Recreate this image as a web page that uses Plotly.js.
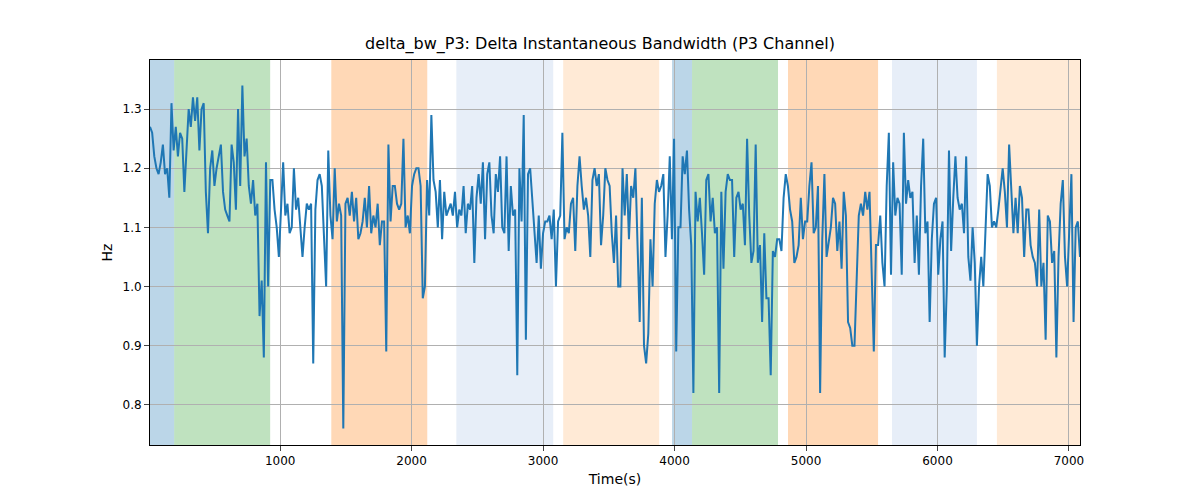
<!DOCTYPE html>
<html>
<head>
<meta charset="utf-8">
<script src="https://cdn.plot.ly/plotly-3.0.1.min.js"></script>
<style>body{margin:0}#plot{width:1200px;height:500px}</style>
</head>
<body>
<div id="plot"></div>
<script>
// measured values, in order of time
let bandwidth = [
  1.27,1.26,1.22,1.20,1.19,1.21,1.24,1.19,1.20,1.15,1.31,1.23,1.27,1.22,1.26,1.25,1.16,1.24,1.30,1.27,1.32,1.28,1.32,1.23,1.30,1.31,1.16,1.09,1.20,1.23,1.17,1.20,1.22,1.24,
  1.16,1.13,1.12,1.11,1.24,1.21,1.13,1.30,1.17,1.34,1.22,1.25,1.17,1.14,1.18,1.12,1.14,
  0.95,1.01,0.88,1.21,1.00,1.18,1.18,1.13,1.10,1.05,1.12,1.21,1.12,1.14,1.09,1.10,1.20,1.13,1.15,1.09,1.05,1.10,1.14,1.13,1.14,0.87,1.13,1.18,1.19,1.17,1.08,
  1.00,1.23,1.12,1.08,1.20,1.11,1.14,1.12,0.76,1.14,1.15,1.12,1.16,1.11,1.15,1.08,1.09,1.11,1.15,1.10,1.17,1.09,1.12,1.10,1.14,1.07,1.11,1.11,0.89,1.24,1.11,1.17,1.17,1.14,1.13,1.14,1.25,1.10,1.12,1.09,1.17,1.19,1.20,1.20,1.17,
  0.98,1.00,1.18,1.12,1.29,1.18,1.16,1.10,1.18,1.08,1.16,1.12,
  1.13,1.14,1.12,1.16,1.10,1.13,1.12,1.17,1.09,1.14,1.13,1.17,1.04,1.15,1.19,1.14,1.21,1.08,1.19,1.21,1.12,1.09,1.19,1.16,1.22,1.10,1.09,1.22,1.06,1.17,1.12,1.13,0.85,1.20,1.11,1.29,0.91,1.19,1.20,1.15,
  1.10,1.04,1.12,1.03,1.09,
  1.11,1.11,1.12,1.08,1.13,1.00,1.11,1.12,1.26,1.08,1.10,1.09,1.14,1.15,1.06,1.17,1.22,1.17,1.13,1.15,1.12,1.05,1.18,1.20,1.17,1.19,1.07,1.12,1.20,1.18,1.17,1.09,1.04,1.12,1.00,1.00,1.20,1.12,1.19,1.08,1.17,1.15,1.20,
  1.07,0.94,1.15,0.90,0.87,0.92,
  1.08,1.00,1.14,1.18,1.16,1.17,1.19,1.05,1.12,
  1.22,1.08,1.25,0.89,1.10,1.10,1.22,1.19,1.23,1.13,1.07,0.82,1.16,1.11,1.15,1.09,1.02,1.18,1.19,1.11,1.15,1.09,1.10,0.82,1.16,1.03,1.16,1.19,1.18,1.18,1.05,1.15,1.16,1.13,1.14,1.07,1.25,1.12,1.04,1.06,
  1.24,1.04,1.07,0.94,1.09,
  0.98,0.98,0.85,1.06,1.05,1.08,1.08,1.06,1.15,1.19,1.17,1.13,1.11,1.04,1.05,1.07,1.15,1.08,1.11,1.11,1.17,1.21,1.09,1.10,1.17,0.82,1.08,1.19,1.05,1.08,1.10,1.15,1.14,1.06,1.11,1.03,1.16,1.12,0.94,0.93,0.90,0.90,1.02,1.12,1.14,1.12,1.16,1.13,1.16,1.03,
  0.89,1.07,1.07,1.12,1.04,
  1.00,1.17,1.26,1.02,1.21,1.12,1.15,1.14,1.02,1.26,1.14,1.18,1.15,1.16,1.04,1.12,1.02,1.17,1.25,1.09,1.11,0.94,1.08,1.14,1.15,1.02,1.08,1.11,0.88,1.00,1.23,1.06,1.15,1.22,1.15,1.13,1.14,1.09,1.22,1.05,
  1.01,1.10,1.04,0.90,1.00,1.05,1.00,1.10,
  1.19,1.17,1.10,1.11,1.10,1.13,1.17,1.20,1.16,1.10,1.24,1.17,1.09,1.15,1.09,1.17,1.15,1.05,1.13,1.13,1.07,1.05,1.04,1.00,1.13,1.00,1.04,0.91,1.12,1.11,1.04,1.06,0.88,1.05,1.14,1.18,1.05,1.00,1.10,1.19,0.94,1.10,1.11,1.05
];
let tStart = 10, tEnd = 7084;
let time = bandwidth.map((v, i) => tStart + i * (tEnd - tStart) / (bandwidth.length - 1));

// shaded intervals: [start, end, colour]
let spanStarts = [10, 194, 1389, 2340, 3153, 3981, 4133, 4863, 5654, 6452];
let spanEnds   = [194, 924, 2119, 3077, 3883, 4133, 4787, 5548, 6300, 7084];
let spanColors = ['rgba(31,119,180,0.3)', 'rgba(44,160,44,0.3)', 'rgba(255,127,14,0.3)',
                  'rgba(174,199,232,0.3)', 'rgba(255,187,120,0.3)',
                  'rgba(31,119,180,0.3)', 'rgba(44,160,44,0.3)', 'rgba(255,127,14,0.3)',
                  'rgba(174,199,232,0.3)', 'rgba(255,187,120,0.3)'];

let shapes = spanStarts.map((s, i) => ({
    type: 'rect', xref: 'x', yref: 'paper', x0: s, x1: spanEnds[i], y0: 0, y1: 1,
    fillcolor: spanColors[i], line: {width: 0}, layer: 'below'
}));

Plotly.newPlot('plot', [{
    x: time, y: bandwidth, mode: 'lines', line: {color: '#1f77b4', width: 2}
}], {
    width: 1200, height: 500,
    margin: {l: 150, r: 120, t: 60, b: 55},
    font: {family: 'DejaVu Sans', size: 12, color: '#000'},
    title: {text: 'delta_bw_P3: Delta Instantaneous Bandwidth (P3 Channel)', font: {size: 16}, y: 0.925},
    showlegend: false,
    plot_bgcolor: '#fff',
    shapes: shapes,
    xaxis: {range: [tStart, tEnd], tickvals: [1000,2000,3000,4000,5000,6000,7000],
            showgrid: true, gridcolor: '#b0b0b0', zeroline: false, showline: true, mirror: true,
            linecolor: '#000', ticks: 'outside', title: {text: 'Time(s)', standoff: 6}},
    yaxis: {range: [0.732, 1.383], tickvals: [0.8,0.9,1.0,1.1,1.2,1.3], ticktext: ['0.8','0.9','1.0','1.1','1.2','1.3'],
            showgrid: true, gridcolor: '#b0b0b0', zeroline: false, showline: true, mirror: true,
            linecolor: '#000', ticks: 'outside', title: {text: 'Hz'}}
}, {displayModeBar: false});
</script>
</body>
</html>
